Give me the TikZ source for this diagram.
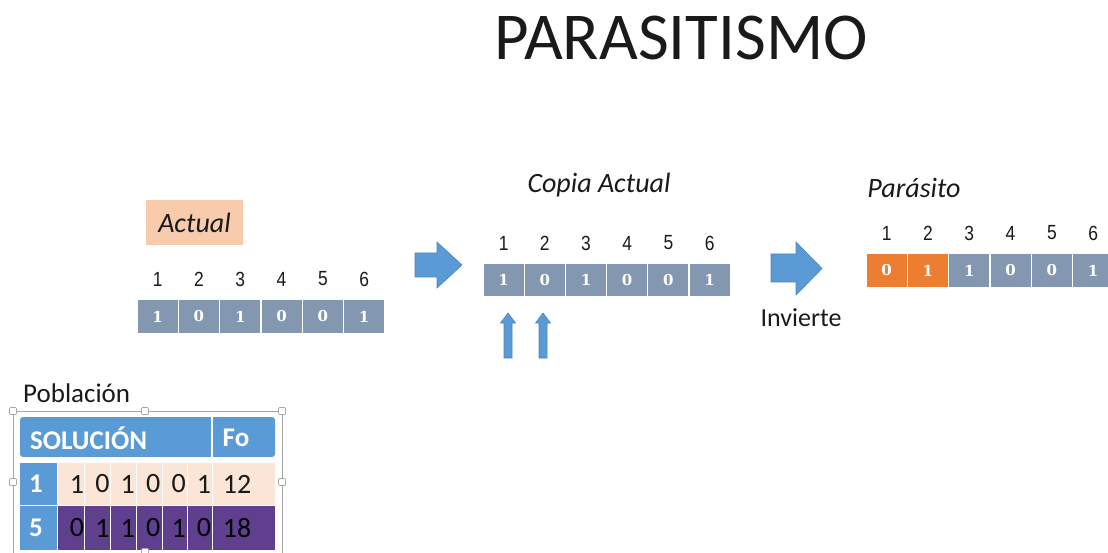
\documentclass[tikz,border=0pt]{standalone}
\usepackage{fontspec}
\setmainfont{Carlito}
\newfontfamily\lblfont[FakeStretch=0.85]{Liberation Sans}
\newfontfamily\cellfont{DejaVu Serif}
\definecolor{slate}{HTML}{8497B0}
\definecolor{orng}{HTML}{ED7D31}
\definecolor{blu}{HTML}{5B9BD5}
\definecolor{bluedge}{HTML}{4A86C0}
\definecolor{peach}{HTML}{F8CBAD}
\definecolor{lpeach}{HTML}{FBE5D6}
\definecolor{purp}{HTML}{60408E}
\definecolor{ink}{HTML}{1A1A1A}
\definecolor{handle}{HTML}{A6A6A6}
\begin{document}
\begin{tikzpicture}[x=1pt,y=-1pt,
  cell/.style={fill=slate,draw=white,line width=1.2pt,minimum width=41.3pt,minimum height=35pt,inner sep=0pt,
    text=white,font=\cellfont\bfseries\fontsize{15}{18}\selectfont},
  ocell/.style={cell,fill=orng},
  lbl/.style={inner sep=0pt,text=ink,font=\lblfont\fontsize{20.5}{24}\selectfont},
  ital/.style={inner sep=0pt,text=ink,font=\itshape\fontsize{28}{32}\selectfont},
  blockarrow/.style={fill=blu,draw=bluedge,line width=0.6pt},
  tcell/.style={inner sep=0pt,font=\fontsize{28}{30}\selectfont},
  thead/.style={inner sep=0pt,text=white,font=\bfseries\fontsize{27}{30}\selectfont},
  hdl/.style={fill=white,draw=handle,line width=0.7pt,minimum width=7pt,minimum height=7pt,inner sep=0pt,rounded corners=1pt},
]
\useasboundingbox (0,0) rectangle (1108,553);

% title
\node[inner sep=0pt,text=ink,font=\fontsize{67}{70}\selectfont] (title) at (681,38) {PARASITISMO};

% Actual
\node[fill=peach,minimum width=97pt,minimum height=45pt,inner sep=0pt] (actbox) at (194.5,222.5) {};
\node[ital] (act) at (actbox.center) {Actual};
\foreach \v [count=\i] in {1,0,1,0,0,1}{
  \node[lbl] (al\i) at ({137+41.3*(\i-0.5)},279) {\i};
  \node[cell] (a\i) at ({137+41.3*(\i-0.5)},316.5) {\v};
}

% arrow 1
\fill[blockarrow] (415,253) -- (437,253) -- (437,242) -- (462,265) -- (437,288) -- (437,277) -- (415,277) -- cycle;

% Copia Actual
\node[ital] (copia) at (599,185) {Copia Actual};
\foreach \v [count=\i] in {1,0,1,0,0,1}{
  \node[lbl] (cl\i) at ({483+41.2*(\i-0.5)},243) {\i};
  \node[cell,minimum height=34pt] (c\i) at ({483+41.2*(\i-0.5)},280) {\v};
}
% small up arrows
\foreach \xx/\n in {508/u1,543/u2}{
  \fill[blockarrow] (\xx-4,358) -- (\xx-4,323) -- (\xx-7.5,323) -- (\xx,313) -- (\xx+7.5,323) -- (\xx+4,323) -- (\xx+4,358) -- cycle;
}

% arrow 2
\fill[blockarrow] (771,254) -- (796,254) -- (796,242) -- (822,268.5) -- (796,295) -- (796,282) -- (771,282) -- cycle;
\node[inner sep=0pt,text=ink,font=\fontsize{26}{30}\selectfont] (inv) at (801,318) {Invierte};

% Parasito
\node[ital] (par) at (914,188) {Parásito};
\foreach \v/\s [count=\i] in {0/ocell,1/ocell,1/cell,0/cell,0/cell,1/cell}{
  \node[lbl] (pl\i) at ({866+41.3*(\i-0.5)},233) {\i};
  \node[\s] (p\i) at ({866+41.3*(\i-0.5)},270.5) {\v};
}

% Poblacion
\node[inner sep=0pt,text=ink,font=\fontsize{27}{30}\selectfont,anchor=west] (pob) at (23,393) {Población};
% selection frame
\draw[handle,line width=0.7pt] (13,411) rectangle (282,560);
% table
\fill[blu,rounded corners=3pt] (20,417) rectangle (275,457);
\fill[white] (20,457) rectangle (275,463);
\fill[blu] (20,463) rectangle (57,550);
\fill[lpeach] (57,463) rectangle (275,505);
\fill[purp] (57,506) rectangle (275,550);
\draw[white,line width=1.2pt] (20,505.5) -- (275,505.5);
\draw[white,line width=1.2pt] (212,417) -- (212,457);
\foreach \xx in {57,84,110,136,162,187,212}{
  \draw[white,line width=1pt] (\xx,463) -- (\xx,550);
}
\node[thead,anchor=west] (sol) at (30,438) {SOLUCIÓN};
\node[thead] (fo) at (236,438) {Fo};
\node[thead] (r1) at (36,484) {1};
\node[thead] (r5) at (36,528) {5};
\foreach \v [count=\i] in {1,0,1,0,0,1}{
  \node[tcell,text=ink] (t1\i) at ({77+25.4*(\i-1)},484) {\v};
}
\node[tcell,text=ink] (f1) at (237,484) {12};
\foreach \v [count=\i] in {0,1,1,0,1,0}{
  \node[tcell,text=black] (t2\i) at ({77+25.4*(\i-1)},528) {\v};
}
\node[tcell,text=black] (f2) at (237,528) {18};
% handles
\node[hdl] (h1) at (13,411) {};
\node[hdl] (h2) at (145,411) {};
\node[hdl] (h3) at (282,411) {};
\node[hdl] (h4) at (13,482) {};
\node[hdl] (h5) at (282,482) {};
\node[hdl] (h6) at (145,552) {};
\end{tikzpicture}
\end{document}
